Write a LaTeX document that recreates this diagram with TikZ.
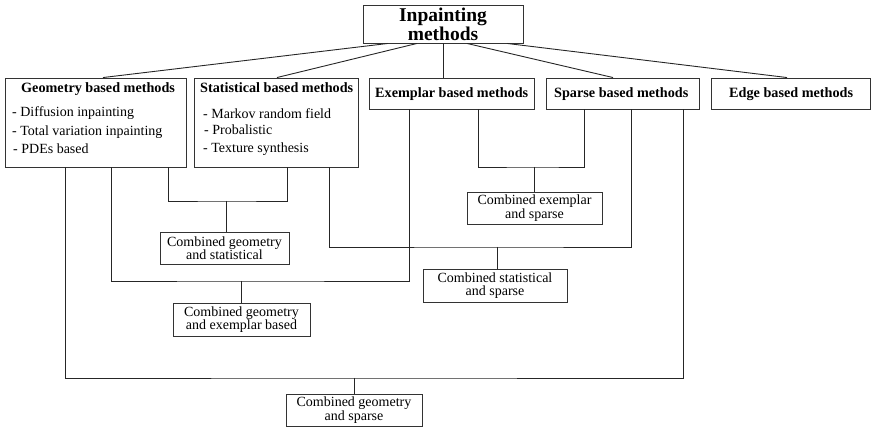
\documentclass[tikz,border=0pt]{standalone}
\usepackage{fontspec}
\setmainfont{Liberation Serif}
\begin{document}
\begin{tikzpicture}[x=1pt,y=-1pt,
  box/.style={draw=black!80,line width=0.9pt,inner sep=0pt,rectangle},
  combo/.style={box,align=center,font=\fontsize{14}{13.5}\selectfont},
  head/.style={inner sep=0pt,anchor=base west,font=\fontsize{14.2}{16}\selectfont\bfseries},
  item/.style={inner sep=0pt,anchor=base west,font=\fontsize{14}{16}\selectfont},
  link/.style={draw=black!85,line width=0.9pt}]
\useasboundingbox (0,0) rectangle (871,427);

% root
\node[box,minimum width=160pt,minimum height=38pt,align=center,
      font=\fontsize{19.5}{16.5}\selectfont\bfseries] (root) at (443,24)
      {Inpainting\\methods};

% method families
\node[box,minimum width=181pt,minimum height=89pt] (geo) at (95.5,122.5) {};
\node[box,minimum width=164pt,minimum height=89pt] (stat) at (276,122.5) {};
\node[box,minimum width=165pt,minimum height=31pt] (exem) at (451.5,93.5) {};
\node[box,minimum width=153pt,minimum height=31pt] (sparse) at (622.5,93.5) {};
\node[box,minimum width=159pt,minimum height=31pt] (edge) at (790.5,93.5) {};

\node[head] (geoT) at (21,93) {Geometry based methods};
\node[item] (geo1) at (12,116.5) {- Diffusion inpainting};
\node[item] (geo2) at (12,135.5) {- Total variation inpainting};
\node[item] (geo3) at (13,154) {- PDEs based};

\node[head] (statT) at (200,93) {Statistical based methods};
\node[item] (stat1) at (203,119) {- Markov random field};
\node[item] (stat2) at (204,135) {- Probalistic};
\node[item] (stat3) at (203,153) {- Texture synthesis};

\node[head] (exemT) at (375,98) {Exemplar based methods};
\node[head] (sparseT) at (554,98) {Sparse based methods};
\node[head] (edgeT) at (729,98) {Edge based methods};

% combinations
\node[combo,minimum width=129pt,minimum height=32pt] (gs) at (224.5,248) {Combined geometry\\and statistical};
\node[combo,minimum width=137pt,minimum height=33pt] (ge) at (241.5,319.5) {Combined geometry\\and exemplar based};
\node[combo,minimum width=144pt,minimum height=33pt] (ss) at (495,285.5) {Combined statistical\\and sparse};
\node[combo,minimum width=135pt,minimum height=32pt] (es) at (534.5,208) {Combined exemplar\\and sparse};
\node[combo,minimum width=136pt,minimum height=32pt] (gsp) at (354,410) {Combined geometry\\and sparse};

% root to families
\draw[link] (root.south -| 388,0) -- (geo.north -| 103,0);
\draw[link] (root.south -| 417,0) -- (stat.north -| 277,0);
\draw[link] (root.south -| 443,0) -- (exem.north -| 443,0);
\draw[link] (root.south -| 467,0) -- (sparse.north -| 613,0);
\draw[link] (root.south -| 507,0) -- (edge.north -| 787,0);

% junction points
\coordinate (jgs) at (226,201);
\coordinate (jge) at (241,281);
\coordinate (jss) at (497,247);
\coordinate (jes) at (534,167);
\coordinate (jgsp) at (354,378);

% geometry + statistical
\draw[link] (geo.south -| 168,0) |- (jgs) -| (stat.south -| 287,0);
\draw[link] (jgs) -- (jgs |- gs.north);
% geometry + exemplar
\draw[link] (geo.south -| 111,0) |- (jge) -| (exem.south -| 409,0);
\draw[link] (jge) -- (jge |- ge.north);
% statistical + sparse
\draw[link] (stat.south -| 329,0) |- (jss) -| (sparse.south -| 631,0);
\draw[link] (jss) -- (jss |- ss.north);
% exemplar + sparse
\draw[link] (exem.south -| 478,0) |- (jes) -| (sparse.south -| 584,0);
\draw[link] (jes) -- (jes |- es.north);
% geometry + sparse
\draw[link] (geo.south -| 65,0) |- (jgsp) -| (sparse.south -| 683,0);
\draw[link] (jgsp) -- (jgsp |- gsp.north);
\end{tikzpicture}
\end{document}
